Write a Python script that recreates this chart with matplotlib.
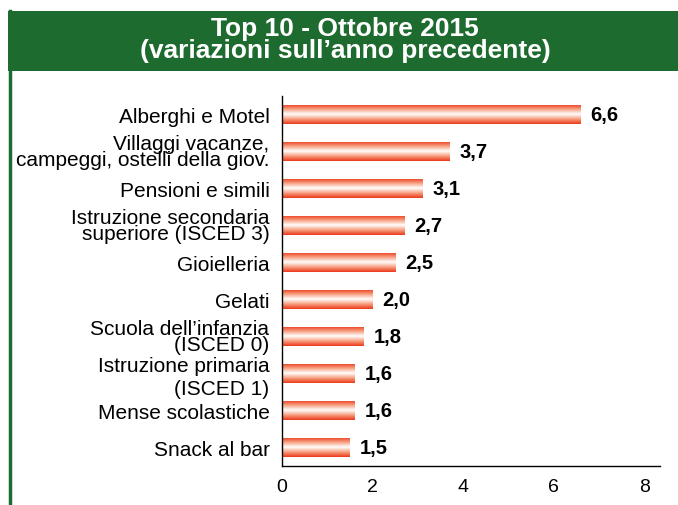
import matplotlib
matplotlib.use("Agg")
import matplotlib.pyplot as plt
import numpy as np
from matplotlib.colors import LinearSegmentedColormap
from matplotlib.patches import Rectangle

plt.rcParams['font.family'] = ['Liberation Sans', 'DejaVu Sans']

categories = ["Alberghi e Motel",
              "Villaggi vacanze,\ncampeggi, ostelli della giov.",
              "Pensioni e simili",
              "Istruzione secondaria\nsuperiore (ISCED 3)",
              "Gioielleria",
              "Gelati",
              "Scuola dell\u2019infanzia\n(ISCED 0)",
              "Istruzione primaria\n(ISCED 1)",
              "Mense scolastiche",
              "Snack al bar"]
values = [6.6, 3.7, 3.1, 2.7, 2.5, 2.0, 1.8, 1.6, 1.6, 1.5]
value_labels = ["6,6", "3,7", "3,1", "2,7", "2,5", "2,0", "1,8", "1,6", "1,6", "1,5"]
xticks = [0, 2, 4, 6, 8]
title = "Top 10 - Ottobre 2015\n(variazioni sull\u2019anno precedente)"

green = "#1e6b2f"
fig = plt.figure(figsize=(6.78, 5.06), dpi=100)
W, H = 678, 506

# header band
fig.patches.append(Rectangle((8 / W, 1 - 72 / H), 1, 60 / H, transform=fig.transFigure,
                             facecolor=green, edgecolor="none", zorder=0))
# left border line
fig.add_artist(plt.Line2D([9.5 / W, 9.5 / W], [0, 1 - 12 / H], transform=fig.transFigure,
                          color=green, lw=2.5))
fig.text(345 / W, 1 - 40 / H, title, ha="center", va="center", color="white",
         fontsize=19, fontweight="bold", linespacing=0.9)

ax = fig.add_axes([282 / W, 1 - 467 / H, (660 - 282) / W, (467 - 97) / H])
y = np.arange(len(values))
bars = ax.barh(y, values, height=0.52, color="none", edgecolor="none")

cmap = LinearSegmentedColormap.from_list("g", ["#ec3a1c", "#f7a080", "#ffffff", "#f7a080", "#ec3a1c"])
grad = np.linspace(0, 1, 64).reshape(-1, 1)
for b in bars:
    x0, y0 = b.get_x(), b.get_y()
    w, h = b.get_width(), b.get_height()
    im = ax.imshow(grad, cmap=cmap, aspect="auto", extent=(x0, x0 + w, y0 + h, y0),
                   interpolation="bilinear", zorder=2)
    im.set_clip_path(b)

for yi, v, lab in zip(y, values, value_labels):
    ax.text(v + 0.22, yi, lab, ha="left", va="center", fontsize=14.5, fontweight="bold")

ax.set_xlim(0, 8.35)
ax.set_ylim(9.5, -0.5)
ax.set_yticks(y)
ax.set_yticklabels(categories, fontsize=15)
for i, t in enumerate(ax.get_yticklabels()):
    t.set_linespacing(1.22 if i == 7 else 0.78)
ax.set_xticks(xticks)
ax.set_xticklabels([str(t) for t in xticks], fontsize=14)
ax.tick_params(axis="y", length=0, pad=9)
ax.tick_params(axis="x", length=0, pad=9)
for s in ["top", "right"]:
    ax.spines[s].set_visible(False)
ax.spines["left"].set_linewidth(1)
ax.spines["bottom"].set_linewidth(1)

fig.savefig("out.png", dpi=100)
